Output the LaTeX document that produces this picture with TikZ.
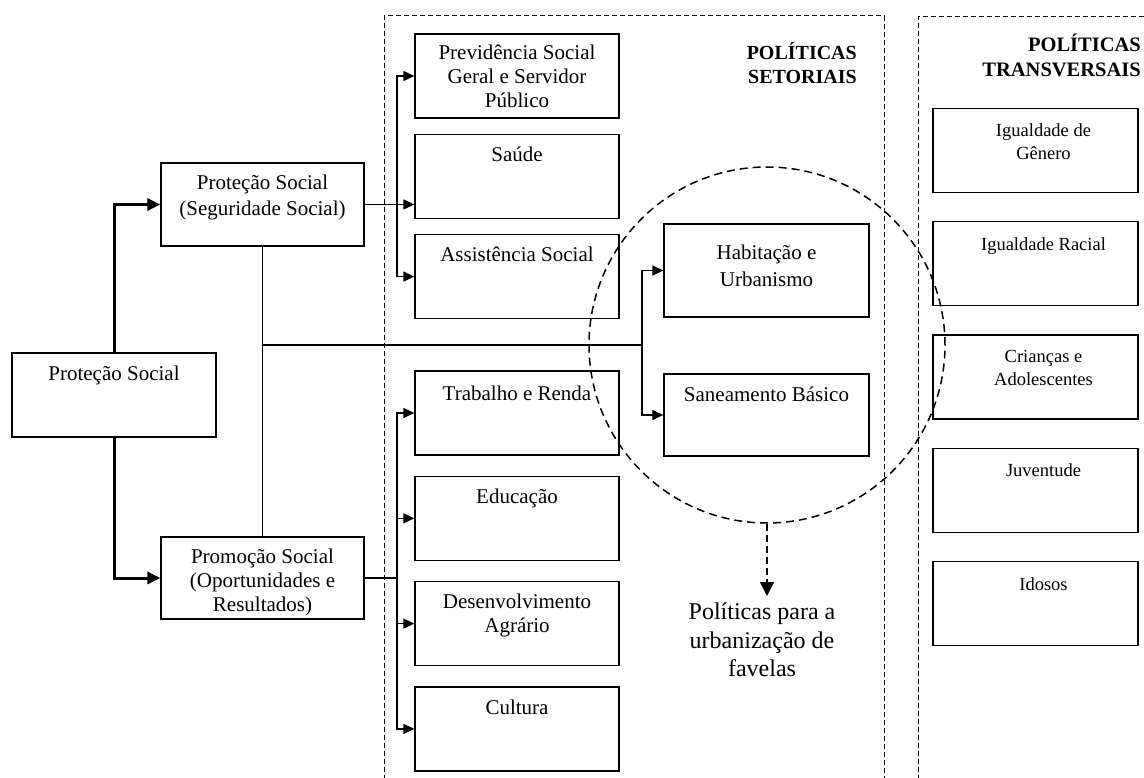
\documentclass[tikz,border=0pt]{standalone}
\usepackage{fontspec}
\setmainfont{Liberation Serif}
\usetikzlibrary{positioning, arrows.meta}
\tikzset{>={Triangle[length=11pt, width=10pt]}, node distance=15pt,
  caixa/.style={draw, line width=1.3pt, minimum width=204pt, minimum height=84pt, inner sep=0pt},
  rotulo/.style={anchor=north, inner sep=13pt, align=center, font=\fontsize{21}{24}\selectfont},
  rotulot/.style={rotulo, inner sep=16pt, xshift=8pt, font=\fontsize{18.5}{23}\selectfont},
  cabec/.style={align=right, inner sep=0pt, font=\bfseries\fontsize{20}{24}\selectfont},
  moldura/.style={dash pattern=on 5pt off 3pt, line width=1pt},
  liga/.style={line width=1.3pt},
  grossa/.style={line width=3pt, -{Triangle[length=13pt, width=12pt]}}}

\begin{document}
\begin{tikzpicture}[x=1pt, y=-1pt]
    \useasboundingbox (0,0) rectangle (1144,778);
    % molduras
    \draw[moldura] (384,780) |- (884,16) -- (884,780);
    \draw[moldura] (918,780) |- (1150,17);
    \node[cabec, anchor=north east] (setor) at (857,42) {POLÍTICAS\\SETORIAIS};
    \node[cabec, anchor=north east, font=\bfseries\fontsize{20.5}{25}\selectfont] (transv) at (1141,34) {POLÍTICAS\\TRANSVERSAIS};

    % protecao social
    \node[caixa, label={[rotulo]north:Proteção Social}] (raiz) at (114,395) {};
    \node[caixa, minimum width=203pt, minimum height=83pt, label={[rotulo, inner sep=12pt, font=\fontsize{21}{26}\selectfont]north:{Proteção Social\\(Seguridade Social)}}] (segur) at (262.5,204.5) {};
    \node[caixa, minimum width=203pt, minimum height=82pt, label={[rotulo, inner sep=12pt]north:{Promoção Social\\(Oportunidades e\\Resultados)}}] (promo) at (262.5,578) {};

    % politicas setoriais
    \node[caixa, label={[rotulo, inner sep=11pt]north:{Previdência Social\\Geral e Servidor\\Público}}] (previd) at (517,76) {};
    \node[caixa, below=of previd, label={[rotulo]north:Saúde}] (saude) {};
    \node[caixa, below=of saude, label={[rotulo]north:Assistência Social}] (assist) {};
    \node[caixa, label={[rotulo, inner sep=15pt]north:Trabalho e Renda}] (trab) at (517,413) {};
    \node[caixa, below=20pt of trab, label={[rotulo]north:Educação}] (educ) {};
    \node[caixa, below=20pt of educ, label={[rotulo]north:{Desenvolvimento\\Agrário}}] (desenv) {};
    \node[caixa, below=20pt of desenv, label={[rotulo]north:Cultura}] (cult) {};
    \node[caixa, minimum width=205pt, minimum height=93pt, label={[rotulo, inner sep=21pt, font=\fontsize{21}{27}\selectfont]north:{Habitação e\\Urbanismo}}] (habit) at (766.5,270.5) {};
    \node[caixa, minimum width=205pt, minimum height=82pt, label={[rotulo]north:Saneamento Básico}] (sanea) at (766.5,415) {};

    % politicas transversais
    \node[caixa, minimum width=205pt, label={[rotulot]north:{Igualdade de\\Gênero}}] (genero) at (1035.5,150.5) {};
    \node[caixa, minimum width=205pt, below=28pt of genero, label={[rotulot]north:Igualdade Racial}] (racial) {};
    \node[caixa, minimum width=205pt, below=28pt of racial, label={[rotulot]north:{Crianças e\\Adolescentes}}] (criancas) {};
    \node[caixa, minimum width=205pt, below=28pt of criancas, label={[rotulot]north:Juventude}] (juvent) {};
    \node[caixa, minimum width=205pt, below=28pt of juvent, label={[rotulot]north:Idosos}] (idosos) {};

    % favelas
    \node[circle, draw, dash pattern=on 8pt off 5pt, line width=1.5pt, minimum size=356pt] (favela) at (767,345) {};
    \node[anchor=north, align=center, inner sep=0pt, font=\fontsize{24}{28.5}\selectfont] (texto) at (762,603) {Políticas para a\\urbanização de\\favelas};

    % ligacoes
    \coordinate (bus1) at (397,0);
    \coordinate (bus2) at (642,345);
    \draw[grossa] (raiz.north) |- (segur.west);
    \draw[grossa] (raiz.south) |- (promo.west);
    \draw[liga, ->] (segur.east) -- (segur.east -| saude.west);
    \draw[liga, ->] (segur.east -| bus1) |- (previd.west);
    \draw[liga, ->] (segur.east -| bus1) |- (assist.west);
    \draw[liga] (segur.south) -- (promo.north);
    \draw[liga] (segur.south |- bus2) -- (bus2);
    \draw[liga, ->] (bus2) |- (habit.west);
    \draw[liga, ->] (bus2) |- (sanea.west);
    \draw[liga] (promo.east) -- (promo.east -| bus1);
    \foreach \alvo in {trab, educ, desenv, cult}
        \draw[liga, ->] (promo.east -| bus1) |- (\alvo.west);
    \draw[dash pattern=on 7pt off 4pt, line width=1.5pt, -{Triangle[length=14pt, width=14pt]}] (favela.south) -- ([yshift=7pt]favela.south |- texto.north);
\end{tikzpicture}
\end{document}
